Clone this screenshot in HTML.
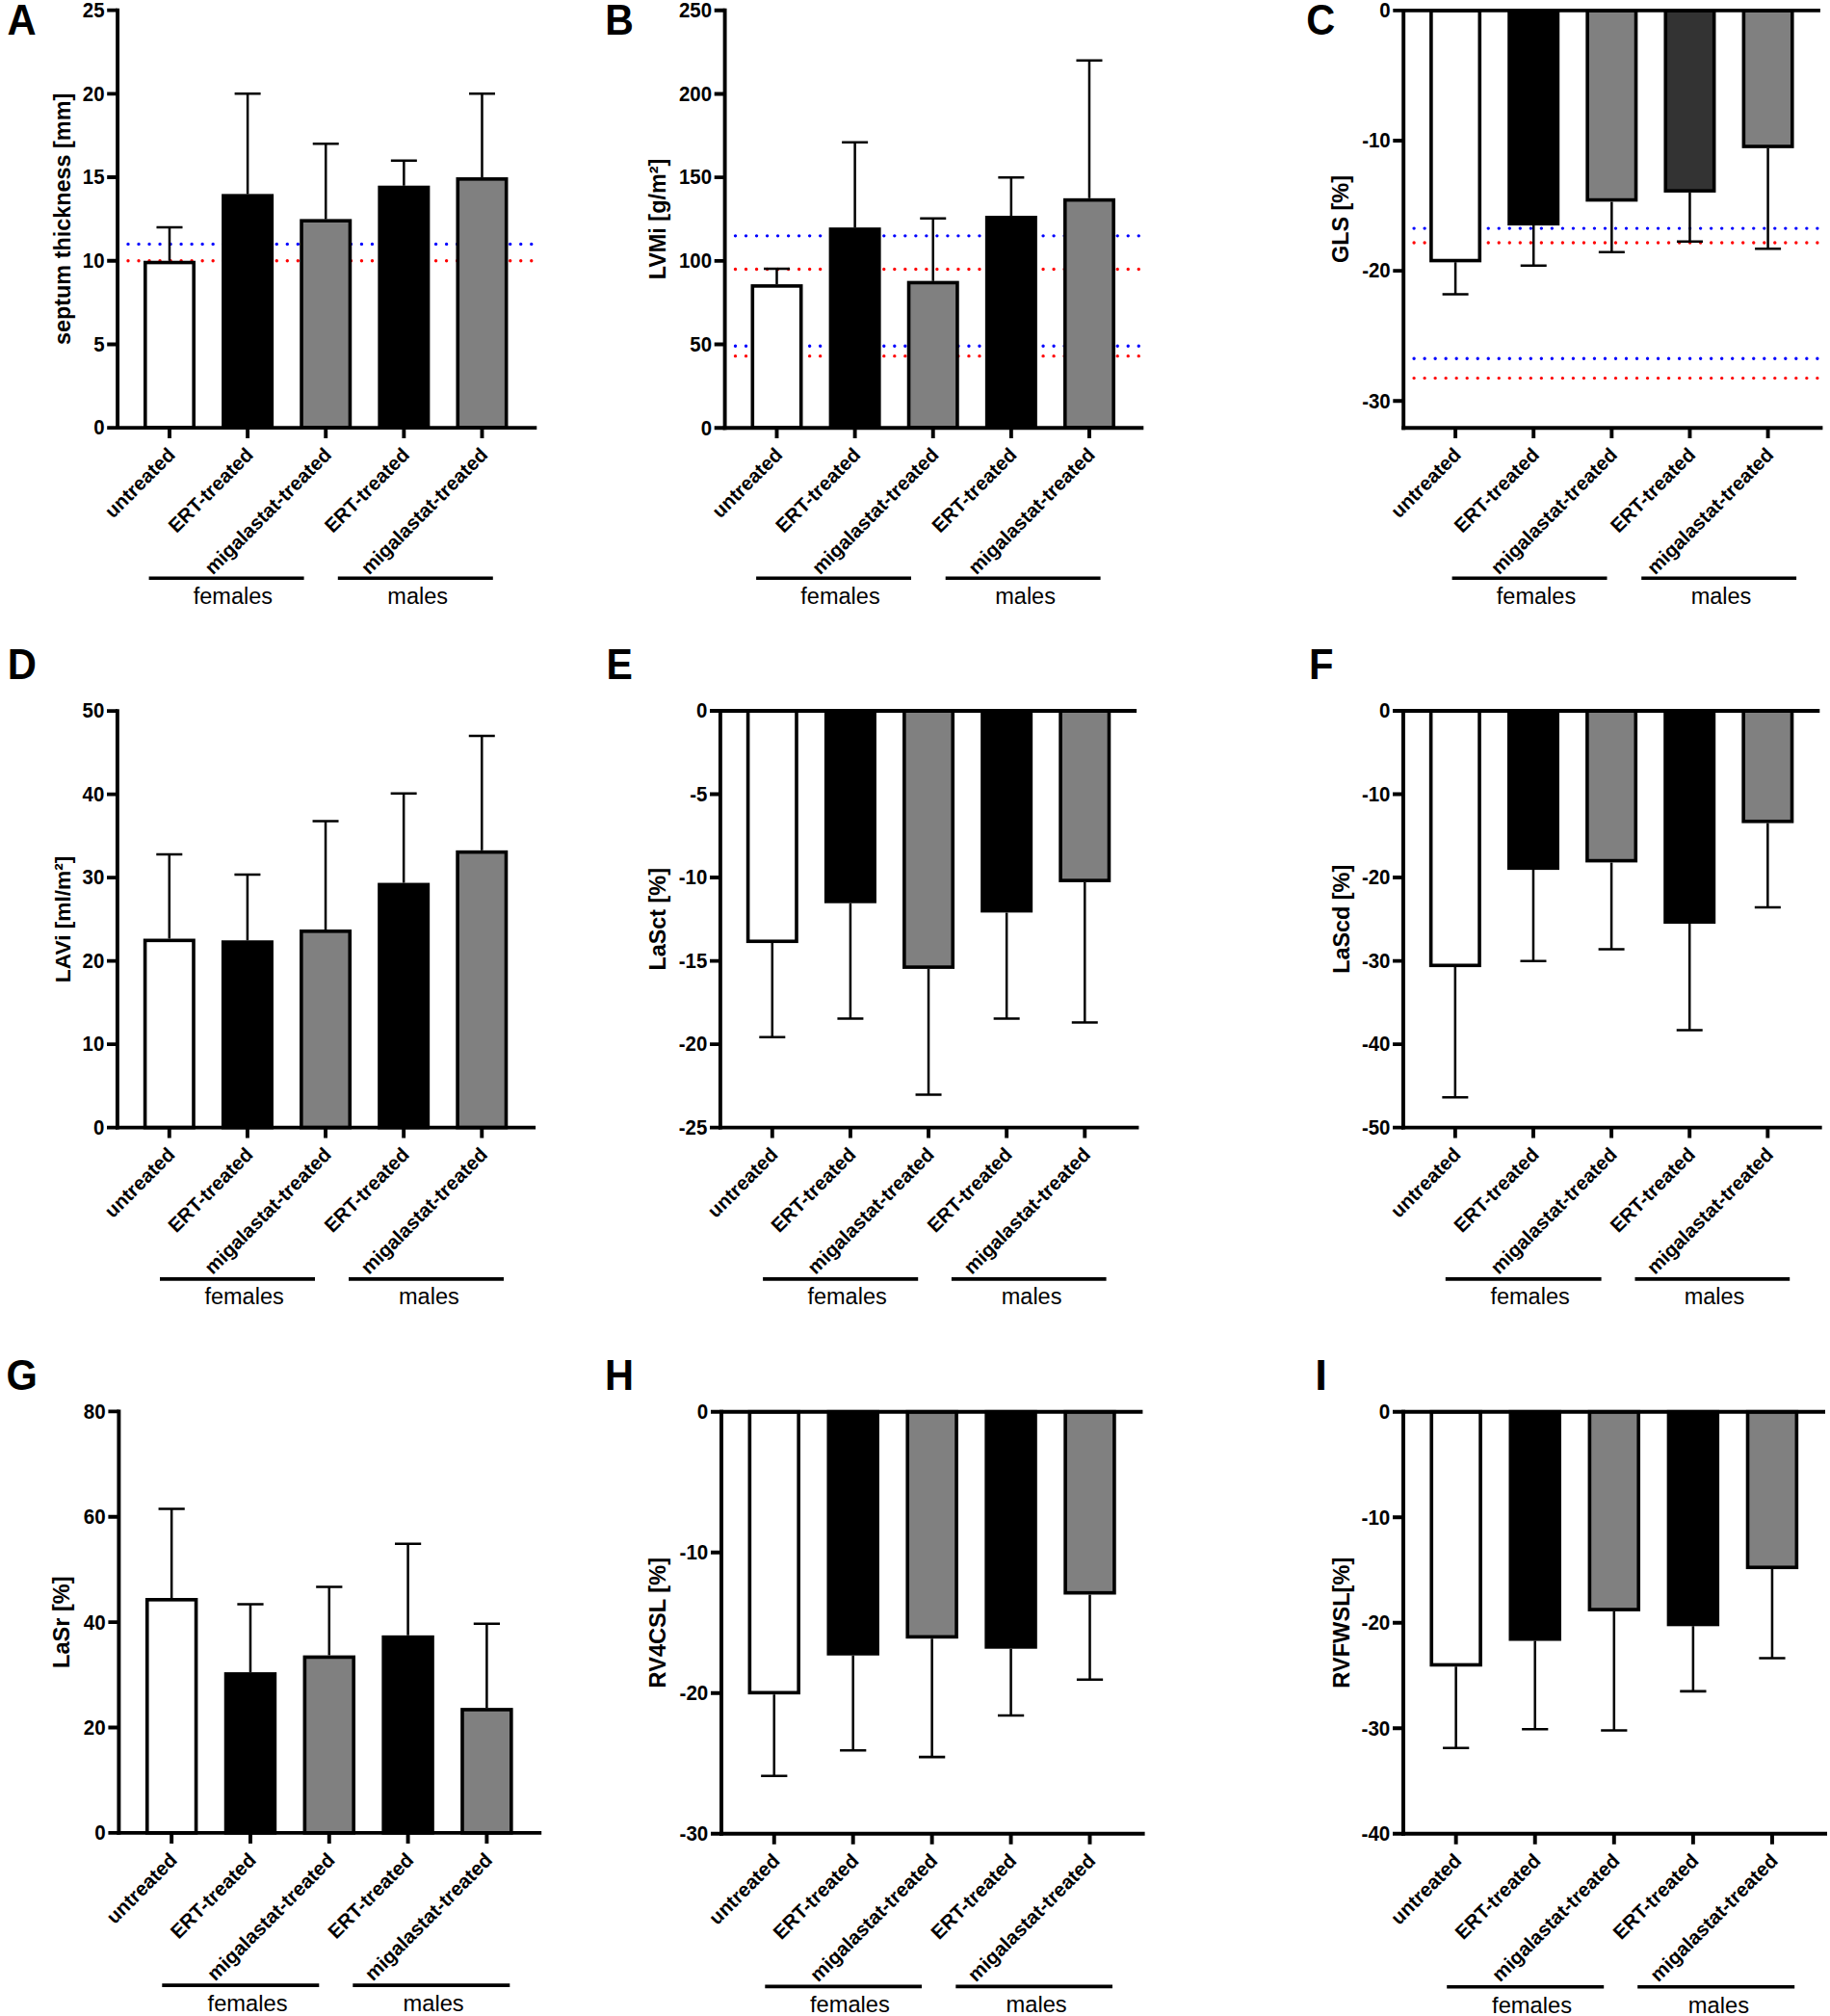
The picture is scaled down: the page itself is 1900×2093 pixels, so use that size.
<!DOCTYPE html>
<html lang="en"><head><meta charset="utf-8"><title>Figure</title>
<style>
html,body{margin:0;padding:0;background:#fff;}
body{width:1900px;height:2093px;overflow:hidden;}
svg{display:block;font-family:"Liberation Sans", sans-serif;fill:#000;}
</style></head><body>
<svg width="1900" height="2093" viewBox="0 0 1900 2093">
<rect width="1900" height="2093" fill="#fff"/>
<g>
<line x1="133" y1="253.41" x2="556.3" y2="253.41" stroke="#0000ff" stroke-width="3.4" stroke-linecap="round" stroke-dasharray="0 11.02"/>
<line x1="133" y1="270.75" x2="556.3" y2="270.75" stroke="#ff0000" stroke-width="3.4" stroke-linecap="round" stroke-dasharray="0 11.02"/>
<path d="M176 270.75V236.07M162.5 236.07H189.5" stroke="#000" stroke-width="2.5" fill="none"/>
<rect x="150.8" y="272.55" width="50.4" height="171.6" fill="#ffffff" stroke="#000" stroke-width="3.6"/>
<path d="M257.12 201.39V97.35M243.62 97.35H270.62" stroke="#000" stroke-width="2.5" fill="none"/>
<rect x="231.92" y="203.19" width="50.4" height="240.96" fill="#000000" stroke="#000" stroke-width="3.6"/>
<path d="M338.24 227.4V149.37M324.74 149.37H351.74" stroke="#000" stroke-width="2.5" fill="none"/>
<rect x="313.04" y="229.2" width="50.4" height="214.95" fill="#808080" stroke="#000" stroke-width="3.6"/>
<path d="M419.36 192.72V166.71M405.86 166.71H432.86" stroke="#000" stroke-width="2.5" fill="none"/>
<rect x="394.16" y="194.52" width="50.4" height="249.63" fill="#000000" stroke="#000" stroke-width="3.6"/>
<path d="M500.48 184.05V97.35M486.98 97.35H513.98" stroke="#000" stroke-width="2.5" fill="none"/>
<rect x="475.28" y="185.85" width="50.4" height="258.3" fill="#808080" stroke="#000" stroke-width="3.6"/>
<path d="M122.1 8.7V446.1" stroke="#000" stroke-width="3.9" fill="none"/>
<path d="M120.15 444.15H557.3" stroke="#000" stroke-width="3.9" fill="none"/>
<path d="M111.2 444.15H122.1M111.2 357.45H122.1M111.2 270.75H122.1M111.2 184.05H122.1M111.2 97.35H122.1M111.2 10.65H122.1" stroke="#000" stroke-width="3.9" fill="none"/>
<g font-weight="bold" font-size="20.4" text-anchor="end">
<text transform="translate(108.5 451.45) scale(1 1.04)">0</text>
<text transform="translate(108.5 364.75) scale(1 1.04)">5</text>
<text transform="translate(108.5 278.05) scale(1 1.04)">10</text>
<text transform="translate(108.5 191.35) scale(1 1.04)">15</text>
<text transform="translate(108.5 104.65) scale(1 1.04)">20</text>
<text transform="translate(108.5 17.95) scale(1 1.04)">25</text>
</g>
<path d="M176 444.15V455.05M257.12 444.15V455.05M338.24 444.15V455.05M419.36 444.15V455.05M500.48 444.15V455.05" stroke="#000" stroke-width="3.9" fill="none"/>
<g font-weight="bold" font-size="20.4" text-anchor="end">
<text transform="translate(183 473.35) rotate(-45)">untreated</text>
<text transform="translate(264.12 473.35) rotate(-45)">ERT-treated</text>
<text transform="translate(345.24 473.35) rotate(-45)">migalastat-treated</text>
<text transform="translate(426.36 473.35) rotate(-45)">ERT-treated</text>
<text transform="translate(507.48 473.35) rotate(-45)">migalastat-treated</text>
</g>
<text transform="translate(72.9 227.4) rotate(-90)" font-weight="bold" font-size="23.4" text-anchor="middle">septum thickness [mm]</text>
<path d="M154.6 600.3H315.6" stroke="#000" stroke-width="3.6" fill="none"/>
<text x="241.9" y="626.5" font-size="23.5" text-anchor="middle">females</text>
<path d="M350.8 600.3H511.8" stroke="#000" stroke-width="3.6" fill="none"/>
<text x="433.7" y="626.5" font-size="23.5" text-anchor="middle">males</text>
<text transform="translate(7.46 36.3) scale(0.944 1)" font-weight="bold" font-size="44.2">A</text>
</g>
<g>
<line x1="763.5" y1="244.84" x2="1186.3" y2="244.84" stroke="#0000ff" stroke-width="3.4" stroke-linecap="round" stroke-dasharray="0 11.02"/>
<line x1="763.5" y1="279.51" x2="1186.3" y2="279.51" stroke="#ff0000" stroke-width="3.4" stroke-linecap="round" stroke-dasharray="0 11.02"/>
<line x1="763.5" y1="359.25" x2="1186.3" y2="359.25" stroke="#0000ff" stroke-width="3.4" stroke-linecap="round" stroke-dasharray="0 11.02"/>
<line x1="763.5" y1="369.66" x2="1186.3" y2="369.66" stroke="#ff0000" stroke-width="3.4" stroke-linecap="round" stroke-dasharray="0 11.02"/>
<path d="M806.5 295.11V278.99M793 278.99H820" stroke="#000" stroke-width="2.5" fill="none"/>
<rect x="781.3" y="296.91" width="50.4" height="147.29" fill="#ffffff" stroke="#000" stroke-width="3.6"/>
<path d="M887.62 236.17V147.75M874.12 147.75H901.12" stroke="#000" stroke-width="2.5" fill="none"/>
<rect x="862.42" y="237.97" width="50.4" height="206.23" fill="#000000" stroke="#000" stroke-width="3.6"/>
<path d="M968.74 291.64V226.63M955.24 226.63H982.24" stroke="#000" stroke-width="2.5" fill="none"/>
<rect x="943.54" y="293.44" width="50.4" height="150.76" fill="#808080" stroke="#000" stroke-width="3.6"/>
<path d="M1049.86 224.03V184.16M1036.36 184.16H1063.36" stroke="#000" stroke-width="2.5" fill="none"/>
<rect x="1024.66" y="225.83" width="50.4" height="218.37" fill="#000000" stroke="#000" stroke-width="3.6"/>
<path d="M1130.98 205.83V62.81M1117.48 62.81H1144.48" stroke="#000" stroke-width="2.5" fill="none"/>
<rect x="1105.78" y="207.63" width="50.4" height="236.57" fill="#808080" stroke="#000" stroke-width="3.6"/>
<path d="M752.6 8.85V446.15" stroke="#000" stroke-width="3.9" fill="none"/>
<path d="M750.65 444.2H1187.3" stroke="#000" stroke-width="3.9" fill="none"/>
<path d="M741.7 444.2H752.6M741.7 357.52H752.6M741.7 270.84H752.6M741.7 184.16H752.6M741.7 97.48H752.6M741.7 10.8H752.6" stroke="#000" stroke-width="3.9" fill="none"/>
<g font-weight="bold" font-size="20.4" text-anchor="end">
<text transform="translate(739 451.5) scale(1 1.04)">0</text>
<text transform="translate(739 364.82) scale(1 1.04)">50</text>
<text transform="translate(739 278.14) scale(1 1.04)">100</text>
<text transform="translate(739 191.46) scale(1 1.04)">150</text>
<text transform="translate(739 104.78) scale(1 1.04)">200</text>
<text transform="translate(739 18.1) scale(1 1.04)">250</text>
</g>
<path d="M806.5 444.2V455.1M887.62 444.2V455.1M968.74 444.2V455.1M1049.86 444.2V455.1M1130.98 444.2V455.1" stroke="#000" stroke-width="3.9" fill="none"/>
<g font-weight="bold" font-size="20.4" text-anchor="end">
<text transform="translate(813.5 473.4) rotate(-45)">untreated</text>
<text transform="translate(894.62 473.4) rotate(-45)">ERT-treated</text>
<text transform="translate(975.74 473.4) rotate(-45)">migalastat-treated</text>
<text transform="translate(1056.86 473.4) rotate(-45)">ERT-treated</text>
<text transform="translate(1137.98 473.4) rotate(-45)">migalastat-treated</text>
</g>
<text transform="translate(690.5 227.5) rotate(-90)" font-weight="bold" font-size="23.4" text-anchor="middle">LVMi [g/m²]</text>
<path d="M785.1 600.3H946" stroke="#000" stroke-width="3.6" fill="none"/>
<text x="872.5" y="626.5" font-size="23.5" text-anchor="middle">females</text>
<path d="M981.7 600.3H1142.6" stroke="#000" stroke-width="3.6" fill="none"/>
<text x="1064.6" y="626.5" font-size="23.5" text-anchor="middle">males</text>
<text transform="translate(628.36 36.3) scale(0.927 1)" font-weight="bold" font-size="44.2">B</text>
</g>
<g>
<line x1="1468.1" y1="237.08" x2="1891.4" y2="237.08" stroke="#0000ff" stroke-width="3.4" stroke-linecap="round" stroke-dasharray="0 11.02"/>
<line x1="1468.1" y1="251.94" x2="1891.4" y2="251.94" stroke="#ff0000" stroke-width="3.4" stroke-linecap="round" stroke-dasharray="0 11.02"/>
<line x1="1468.1" y1="372.32" x2="1891.4" y2="372.32" stroke="#0000ff" stroke-width="3.4" stroke-linecap="round" stroke-dasharray="0 11.02"/>
<line x1="1468.1" y1="392.59" x2="1891.4" y2="392.59" stroke="#ff0000" stroke-width="3.4" stroke-linecap="round" stroke-dasharray="0 11.02"/>
<path d="M1511.1 272.34V305.44M1497.6 305.44H1524.6" stroke="#000" stroke-width="2.5" fill="none"/>
<rect x="1485.9" y="10.9" width="50.4" height="259.64" fill="#ffffff" stroke="#000" stroke-width="3.6"/>
<path d="M1592.22 234.1V275.72M1578.72 275.72H1605.72" stroke="#000" stroke-width="2.5" fill="none"/>
<rect x="1567.02" y="10.9" width="50.4" height="221.4" fill="#000000" stroke="#000" stroke-width="3.6"/>
<path d="M1673.34 209.38V261.8M1659.84 261.8H1686.84" stroke="#000" stroke-width="2.5" fill="none"/>
<rect x="1648.14" y="10.9" width="50.4" height="196.68" fill="#808080" stroke="#000" stroke-width="3.6"/>
<path d="M1754.46 199.92V250.72M1740.96 250.72H1767.96" stroke="#000" stroke-width="2.5" fill="none"/>
<rect x="1729.26" y="10.9" width="50.4" height="187.22" fill="#333333" stroke="#000" stroke-width="3.6"/>
<path d="M1835.58 153.85V258.15M1822.08 258.15H1849.08" stroke="#000" stroke-width="2.5" fill="none"/>
<rect x="1810.38" y="10.9" width="50.4" height="141.15" fill="#808080" stroke="#000" stroke-width="3.6"/>
<path d="M1457.2 8.95V446.15" stroke="#000" stroke-width="3.9" fill="none"/>
<path d="M1455.25 444.2H1892.4" stroke="#000" stroke-width="3.9" fill="none"/>
<path d="M1457.2 10.9H1889.9" stroke="#000" stroke-width="3.9" fill="none"/>
<path d="M1446.3 10.9H1457.2M1446.3 146.01H1457.2M1446.3 281.12H1457.2M1446.3 416.23H1457.2" stroke="#000" stroke-width="3.9" fill="none"/>
<g font-weight="bold" font-size="20.4" text-anchor="end">
<text transform="translate(1443.6 18.2) scale(1 1.04)">0</text>
<text transform="translate(1443.6 153.31) scale(1 1.04)">-10</text>
<text transform="translate(1443.6 288.42) scale(1 1.04)">-20</text>
<text transform="translate(1443.6 423.54) scale(1 1.04)">-30</text>
</g>
<path d="M1511.1 444.2V455.1M1592.22 444.2V455.1M1673.34 444.2V455.1M1754.46 444.2V455.1M1835.58 444.2V455.1" stroke="#000" stroke-width="3.9" fill="none"/>
<g font-weight="bold" font-size="20.4" text-anchor="end">
<text transform="translate(1518.1 473.4) rotate(-45)">untreated</text>
<text transform="translate(1599.22 473.4) rotate(-45)">ERT-treated</text>
<text transform="translate(1680.34 473.4) rotate(-45)">migalastat-treated</text>
<text transform="translate(1761.46 473.4) rotate(-45)">ERT-treated</text>
<text transform="translate(1842.58 473.4) rotate(-45)">migalastat-treated</text>
</g>
<text transform="translate(1399.5 227.55) rotate(-90)" font-weight="bold" font-size="23.4" text-anchor="middle">GLS [%]</text>
<path d="M1507.6 600.3H1668.5" stroke="#000" stroke-width="3.6" fill="none"/>
<text x="1595" y="626.5" font-size="23.5" text-anchor="middle">females</text>
<path d="M1704.2 600.3H1865.1" stroke="#000" stroke-width="3.6" fill="none"/>
<text x="1787" y="626.5" font-size="23.5" text-anchor="middle">males</text>
<text transform="translate(1356.2 36.3) scale(0.938 1)" font-weight="bold" font-size="44.2">C</text>
</g>
<g>
<path d="M175.8 974.53V886.9M162.3 886.9H189.3" stroke="#000" stroke-width="2.5" fill="none"/>
<rect x="150.6" y="976.33" width="50.4" height="194.32" fill="#ffffff" stroke="#000" stroke-width="3.6"/>
<path d="M256.92 976.26V908.09M243.42 908.09H270.42" stroke="#000" stroke-width="2.5" fill="none"/>
<rect x="231.72" y="978.06" width="50.4" height="192.59" fill="#000000" stroke="#000" stroke-width="3.6"/>
<path d="M338.04 965.02V852.55M324.54 852.55H351.54" stroke="#000" stroke-width="2.5" fill="none"/>
<rect x="312.84" y="966.82" width="50.4" height="203.83" fill="#808080" stroke="#000" stroke-width="3.6"/>
<path d="M419.16 916.57V823.74M405.66 823.74H432.66" stroke="#000" stroke-width="2.5" fill="none"/>
<rect x="393.96" y="918.37" width="50.4" height="252.28" fill="#000000" stroke="#000" stroke-width="3.6"/>
<path d="M500.28 882.83V764.05M486.78 764.05H513.78" stroke="#000" stroke-width="2.5" fill="none"/>
<rect x="475.08" y="884.63" width="50.4" height="286.02" fill="#808080" stroke="#000" stroke-width="3.6"/>
<path d="M121.9 736.15V1172.6" stroke="#000" stroke-width="3.9" fill="none"/>
<path d="M119.95 1170.65H556.1" stroke="#000" stroke-width="3.9" fill="none"/>
<path d="M111 1170.65H121.9M111 1084.14H121.9M111 997.63H121.9M111 911.12H121.9M111 824.61H121.9M111 738.1H121.9" stroke="#000" stroke-width="3.9" fill="none"/>
<g font-weight="bold" font-size="20.4" text-anchor="end">
<text transform="translate(108.3 1177.95) scale(1 1.04)">0</text>
<text transform="translate(108.3 1091.44) scale(1 1.04)">10</text>
<text transform="translate(108.3 1004.93) scale(1 1.04)">20</text>
<text transform="translate(108.3 918.42) scale(1 1.04)">30</text>
<text transform="translate(108.3 831.91) scale(1 1.04)">40</text>
<text transform="translate(108.3 745.4) scale(1 1.04)">50</text>
</g>
<path d="M175.8 1170.65V1181.55M256.92 1170.65V1181.55M338.04 1170.65V1181.55M419.16 1170.65V1181.55M500.28 1170.65V1181.55" stroke="#000" stroke-width="3.9" fill="none"/>
<g font-weight="bold" font-size="20.4" text-anchor="end">
<text transform="translate(182.8 1199.85) rotate(-45)">untreated</text>
<text transform="translate(263.92 1199.85) rotate(-45)">ERT-treated</text>
<text transform="translate(345.04 1199.85) rotate(-45)">migalastat-treated</text>
<text transform="translate(426.16 1199.85) rotate(-45)">ERT-treated</text>
<text transform="translate(507.28 1199.85) rotate(-45)">migalastat-treated</text>
</g>
<text transform="translate(73 954.38) rotate(-90)" font-weight="bold" font-size="22.7" text-anchor="middle">LAVi [ml/m²]</text>
<path d="M166 1327.9H327" stroke="#000" stroke-width="3.6" fill="none"/>
<text x="253.6" y="1354.3" font-size="23.5" text-anchor="middle">females</text>
<path d="M362 1327.9H523" stroke="#000" stroke-width="3.6" fill="none"/>
<text x="445.4" y="1354.3" font-size="23.5" text-anchor="middle">males</text>
<text transform="translate(7.71 705) scale(0.944 1)" font-weight="bold" font-size="44.2">D</text>
</g>
<g>
<path d="M801.8 979.07V1076.85M788.3 1076.85H815.3" stroke="#000" stroke-width="2.5" fill="none"/>
<rect x="776.6" y="738" width="50.4" height="239.27" fill="#ffffff" stroke="#000" stroke-width="3.6"/>
<path d="M882.92 937.71V1057.47M869.42 1057.47H896.42" stroke="#000" stroke-width="2.5" fill="none"/>
<rect x="857.72" y="738" width="50.4" height="197.91" fill="#000000" stroke="#000" stroke-width="3.6"/>
<path d="M964.04 1005.9V1136.38M950.54 1136.38H977.54" stroke="#000" stroke-width="2.5" fill="none"/>
<rect x="938.84" y="738" width="50.4" height="266.1" fill="#808080" stroke="#000" stroke-width="3.6"/>
<path d="M1045.16 947.4V1057.47M1031.66 1057.47H1058.66" stroke="#000" stroke-width="2.5" fill="none"/>
<rect x="1019.96" y="738" width="50.4" height="207.6" fill="#000000" stroke="#000" stroke-width="3.6"/>
<path d="M1126.28 915.91V1061.62M1112.78 1061.62H1139.78" stroke="#000" stroke-width="2.5" fill="none"/>
<rect x="1101.08" y="738" width="50.4" height="176.11" fill="#808080" stroke="#000" stroke-width="3.6"/>
<path d="M747.9 736.05V1172.6" stroke="#000" stroke-width="3.9" fill="none"/>
<path d="M745.95 1170.65H1182.4" stroke="#000" stroke-width="3.9" fill="none"/>
<path d="M747.9 738H1180.1" stroke="#000" stroke-width="3.9" fill="none"/>
<path d="M737 738H747.9M737 824.53H747.9M737 911.06H747.9M737 997.59H747.9M737 1084.12H747.9M737 1170.65H747.9" stroke="#000" stroke-width="3.9" fill="none"/>
<g font-weight="bold" font-size="20.4" text-anchor="end">
<text transform="translate(734.3 745.3) scale(1 1.04)">0</text>
<text transform="translate(734.3 831.83) scale(1 1.04)">-5</text>
<text transform="translate(734.3 918.36) scale(1 1.04)">-10</text>
<text transform="translate(734.3 1004.89) scale(1 1.04)">-15</text>
<text transform="translate(734.3 1091.42) scale(1 1.04)">-20</text>
<text transform="translate(734.3 1177.95) scale(1 1.04)">-25</text>
</g>
<path d="M801.8 1170.65V1181.55M882.92 1170.65V1181.55M964.04 1170.65V1181.55M1045.16 1170.65V1181.55M1126.28 1170.65V1181.55" stroke="#000" stroke-width="3.9" fill="none"/>
<g font-weight="bold" font-size="20.4" text-anchor="end">
<text transform="translate(808.8 1199.85) rotate(-45)">untreated</text>
<text transform="translate(889.92 1199.85) rotate(-45)">ERT-treated</text>
<text transform="translate(971.04 1199.85) rotate(-45)">migalastat-treated</text>
<text transform="translate(1052.16 1199.85) rotate(-45)">ERT-treated</text>
<text transform="translate(1133.28 1199.85) rotate(-45)">migalastat-treated</text>
</g>
<text transform="translate(691 954.33) rotate(-90)" font-weight="bold" font-size="23.4" text-anchor="middle">LaSct [%]</text>
<path d="M792.1 1327.9H953.2" stroke="#000" stroke-width="3.6" fill="none"/>
<text x="879.6" y="1354.3" font-size="23.5" text-anchor="middle">females</text>
<path d="M987.9 1327.9H1148.6" stroke="#000" stroke-width="3.6" fill="none"/>
<text x="1071.1" y="1354.3" font-size="23.5" text-anchor="middle">males</text>
<text transform="translate(629.46 705) scale(0.928 1)" font-weight="bold" font-size="44.2">E</text>
</g>
<g>
<path d="M1510.85 1004.08V1139.33M1497.35 1139.33H1524.35" stroke="#000" stroke-width="2.5" fill="none"/>
<rect x="1485.65" y="738" width="50.4" height="264.28" fill="#ffffff" stroke="#000" stroke-width="3.6"/>
<path d="M1591.97 903.1V997.76M1578.47 997.76H1605.47" stroke="#000" stroke-width="2.5" fill="none"/>
<rect x="1566.77" y="738" width="50.4" height="163.3" fill="#000000" stroke="#000" stroke-width="3.6"/>
<path d="M1673.09 895.4V985.48M1659.59 985.48H1686.59" stroke="#000" stroke-width="2.5" fill="none"/>
<rect x="1647.89" y="738" width="50.4" height="155.6" fill="#808080" stroke="#000" stroke-width="3.6"/>
<path d="M1754.21 959V1069.41M1740.71 1069.41H1767.71" stroke="#000" stroke-width="2.5" fill="none"/>
<rect x="1729.01" y="738" width="50.4" height="219.2" fill="#000000" stroke="#000" stroke-width="3.6"/>
<path d="M1835.33 854.56V942.04M1821.83 942.04H1848.83" stroke="#000" stroke-width="2.5" fill="none"/>
<rect x="1810.13" y="738" width="50.4" height="114.76" fill="#808080" stroke="#000" stroke-width="3.6"/>
<path d="M1456.95 736.05V1172.6" stroke="#000" stroke-width="3.9" fill="none"/>
<path d="M1455 1170.65H1891.65" stroke="#000" stroke-width="3.9" fill="none"/>
<path d="M1456.95 738H1889.3" stroke="#000" stroke-width="3.9" fill="none"/>
<path d="M1446.05 738H1456.95M1446.05 824.53H1456.95M1446.05 911.06H1456.95M1446.05 997.59H1456.95M1446.05 1084.12H1456.95M1446.05 1170.65H1456.95" stroke="#000" stroke-width="3.9" fill="none"/>
<g font-weight="bold" font-size="20.4" text-anchor="end">
<text transform="translate(1443.35 745.3) scale(1 1.04)">0</text>
<text transform="translate(1443.35 831.83) scale(1 1.04)">-10</text>
<text transform="translate(1443.35 918.36) scale(1 1.04)">-20</text>
<text transform="translate(1443.35 1004.89) scale(1 1.04)">-30</text>
<text transform="translate(1443.35 1091.42) scale(1 1.04)">-40</text>
<text transform="translate(1443.35 1177.95) scale(1 1.04)">-50</text>
</g>
<path d="M1510.85 1170.65V1181.55M1591.97 1170.65V1181.55M1673.09 1170.65V1181.55M1754.21 1170.65V1181.55M1835.33 1170.65V1181.55" stroke="#000" stroke-width="3.9" fill="none"/>
<g font-weight="bold" font-size="20.4" text-anchor="end">
<text transform="translate(1517.85 1199.85) rotate(-45)">untreated</text>
<text transform="translate(1598.97 1199.85) rotate(-45)">ERT-treated</text>
<text transform="translate(1680.09 1199.85) rotate(-45)">migalastat-treated</text>
<text transform="translate(1761.21 1199.85) rotate(-45)">ERT-treated</text>
<text transform="translate(1842.33 1199.85) rotate(-45)">migalastat-treated</text>
</g>
<text transform="translate(1400.5 954.33) rotate(-90)" font-weight="bold" font-size="23.4" text-anchor="middle">LaScd [%]</text>
<path d="M1500.8 1327.9H1662.6" stroke="#000" stroke-width="3.6" fill="none"/>
<text x="1588.6" y="1354.3" font-size="23.5" text-anchor="middle">females</text>
<path d="M1697.5 1327.9H1858.2" stroke="#000" stroke-width="3.6" fill="none"/>
<text x="1780" y="1354.3" font-size="23.5" text-anchor="middle">males</text>
<text transform="translate(1359.1 705) scale(0.945 1)" font-weight="bold" font-size="44.2">F</text>
</g>
<g>
<path d="M178.16 1658.99V1566.57M164.55 1566.57H191.78" stroke="#000" stroke-width="2.52" fill="none"/>
<rect x="152.75" y="1660.81" width="50.83" height="242.09" fill="#ffffff" stroke="#000" stroke-width="3.63"/>
<path d="M259.97 1736.1V1665.56M246.36 1665.56H273.59" stroke="#000" stroke-width="2.52" fill="none"/>
<rect x="234.56" y="1737.92" width="50.83" height="164.98" fill="#000000" stroke="#000" stroke-width="3.63"/>
<path d="M341.78 1718.6V1647.51M328.17 1647.51H355.4" stroke="#000" stroke-width="2.52" fill="none"/>
<rect x="316.37" y="1720.42" width="50.83" height="182.48" fill="#808080" stroke="#000" stroke-width="3.63"/>
<path d="M423.59 1697.82V1602.67M409.98 1602.67H437.2" stroke="#000" stroke-width="2.52" fill="none"/>
<rect x="398.18" y="1699.64" width="50.83" height="203.26" fill="#000000" stroke="#000" stroke-width="3.63"/>
<path d="M505.4 1773.13V1685.79M491.78 1685.79H519.01" stroke="#000" stroke-width="2.52" fill="none"/>
<rect x="479.99" y="1774.94" width="50.83" height="127.96" fill="#808080" stroke="#000" stroke-width="3.63"/>
<path d="M123.4 1463.43V1904.87" stroke="#000" stroke-width="3.93" fill="none"/>
<path d="M121.43 1902.9H562.2" stroke="#000" stroke-width="3.93" fill="none"/>
<path d="M112.41 1902.9H123.4M112.41 1793.53H123.4M112.41 1684.15H123.4M112.41 1574.78H123.4M112.41 1465.4H123.4" stroke="#000" stroke-width="3.93" fill="none"/>
<g font-weight="bold" font-size="20.57" text-anchor="end">
<text transform="translate(109.68 1910.27) scale(1 1.04)">0</text>
<text transform="translate(109.68 1800.89) scale(1 1.04)">20</text>
<text transform="translate(109.68 1691.52) scale(1 1.04)">40</text>
<text transform="translate(109.68 1582.14) scale(1 1.04)">60</text>
<text transform="translate(109.68 1472.77) scale(1 1.04)">80</text>
</g>
<path d="M178.16 1902.9V1913.89M259.97 1902.9V1913.89M341.78 1902.9V1913.89M423.59 1902.9V1913.89M505.4 1902.9V1913.89" stroke="#000" stroke-width="3.93" fill="none"/>
<g font-weight="bold" font-size="20.57" text-anchor="end">
<text transform="translate(185.22 1932.35) rotate(-45)">untreated</text>
<text transform="translate(267.03 1932.35) rotate(-45)">ERT-treated</text>
<text transform="translate(348.84 1932.35) rotate(-45)">migalastat-treated</text>
<text transform="translate(430.65 1932.35) rotate(-45)">ERT-treated</text>
<text transform="translate(512.46 1932.35) rotate(-45)">migalastat-treated</text>
</g>
<text transform="translate(71.5 1684.15) rotate(-90)" font-weight="bold" font-size="23.6" text-anchor="middle">LaSr [%]</text>
<path d="M168.3 2061.1H331.3" stroke="#000" stroke-width="3.63" fill="none"/>
<text x="257.1" y="2088.3" font-size="23.7" text-anchor="middle">females</text>
<path d="M366.3 2061.1H529.3" stroke="#000" stroke-width="3.63" fill="none"/>
<text x="450.1" y="2088.3" font-size="23.7" text-anchor="middle">males</text>
<text transform="translate(6.39 1443) scale(0.934 1)" font-weight="bold" font-size="44.6">G</text>
</g>
<g>
<path d="M803.76 1759.16V1843.84M790.15 1843.84H817.38" stroke="#000" stroke-width="2.52" fill="none"/>
<rect x="778.35" y="1465.7" width="50.83" height="291.64" fill="#ffffff" stroke="#000" stroke-width="3.63"/>
<path d="M885.7 1718.72V1817.27M872.09 1817.27H899.32" stroke="#000" stroke-width="2.52" fill="none"/>
<rect x="860.29" y="1465.7" width="50.83" height="251.2" fill="#000000" stroke="#000" stroke-width="3.63"/>
<path d="M967.64 1701.2V1824.13M954.03 1824.13H981.26" stroke="#000" stroke-width="2.52" fill="none"/>
<rect x="942.23" y="1465.7" width="50.83" height="233.68" fill="#808080" stroke="#000" stroke-width="3.63"/>
<path d="M1049.58 1711.71V1781.06M1035.97 1781.06H1063.2" stroke="#000" stroke-width="2.52" fill="none"/>
<rect x="1024.17" y="1465.7" width="50.83" height="244.19" fill="#000000" stroke="#000" stroke-width="3.63"/>
<path d="M1131.52 1655.5V1743.83M1117.91 1743.83H1145.14" stroke="#000" stroke-width="2.52" fill="none"/>
<rect x="1106.11" y="1465.7" width="50.83" height="187.98" fill="#808080" stroke="#000" stroke-width="3.63"/>
<path d="M749 1463.73V1905.67" stroke="#000" stroke-width="3.93" fill="none"/>
<path d="M747.03 1903.7H1188.6" stroke="#000" stroke-width="3.93" fill="none"/>
<path d="M749 1465.7H1186.4" stroke="#000" stroke-width="3.93" fill="none"/>
<path d="M738.01 1465.7H749M738.01 1611.7H749M738.01 1757.7H749M738.01 1903.7H749" stroke="#000" stroke-width="3.93" fill="none"/>
<g font-weight="bold" font-size="20.57" text-anchor="end">
<text transform="translate(735.28 1473.07) scale(1 1.04)">0</text>
<text transform="translate(735.28 1619.07) scale(1 1.04)">-10</text>
<text transform="translate(735.28 1765.07) scale(1 1.04)">-20</text>
<text transform="translate(735.28 1911.07) scale(1 1.04)">-30</text>
</g>
<path d="M803.76 1903.7V1914.69M885.7 1903.7V1914.69M967.64 1903.7V1914.69M1049.58 1903.7V1914.69M1131.52 1903.7V1914.69" stroke="#000" stroke-width="3.93" fill="none"/>
<g font-weight="bold" font-size="20.57" text-anchor="end">
<text transform="translate(810.82 1933.15) rotate(-45)">untreated</text>
<text transform="translate(892.76 1933.15) rotate(-45)">ERT-treated</text>
<text transform="translate(974.7 1933.15) rotate(-45)">migalastat-treated</text>
<text transform="translate(1056.64 1933.15) rotate(-45)">ERT-treated</text>
<text transform="translate(1138.58 1933.15) rotate(-45)">migalastat-treated</text>
</g>
<text transform="translate(690.5 1684.7) rotate(-90)" font-weight="bold" font-size="23.6" text-anchor="middle">RV4CSL [%]</text>
<path d="M794.3 2062.4H957" stroke="#000" stroke-width="3.63" fill="none"/>
<text x="882.4" y="2089.1" font-size="23.7" text-anchor="middle">females</text>
<path d="M992.3 2062.4H1155" stroke="#000" stroke-width="3.63" fill="none"/>
<text x="1076.1" y="2089.1" font-size="23.7" text-anchor="middle">males</text>
<text transform="translate(628.02 1442.9) scale(0.931 1)" font-weight="bold" font-size="44.6">H</text>
</g>
<g>
<path d="M1511.66 1730.25V1814.79M1498.05 1814.79H1525.28" stroke="#000" stroke-width="2.52" fill="none"/>
<rect x="1486.25" y="1465.7" width="50.83" height="262.74" fill="#ffffff" stroke="#000" stroke-width="3.63"/>
<path d="M1593.73 1703.53V1795.3M1580.12 1795.3H1607.35" stroke="#000" stroke-width="2.52" fill="none"/>
<rect x="1568.32" y="1465.7" width="50.83" height="236.02" fill="#000000" stroke="#000" stroke-width="3.63"/>
<path d="M1675.8 1672.87V1796.39M1662.19 1796.39H1689.42" stroke="#000" stroke-width="2.52" fill="none"/>
<rect x="1650.39" y="1465.7" width="50.83" height="205.36" fill="#808080" stroke="#000" stroke-width="3.63"/>
<path d="M1757.88 1688.31V1755.88M1744.26 1755.88H1771.49" stroke="#000" stroke-width="2.52" fill="none"/>
<rect x="1732.46" y="1465.7" width="50.83" height="220.8" fill="#000000" stroke="#000" stroke-width="3.63"/>
<path d="M1839.95 1629.07V1721.49M1826.33 1721.49H1853.56" stroke="#000" stroke-width="2.52" fill="none"/>
<rect x="1814.53" y="1465.7" width="50.83" height="161.56" fill="#808080" stroke="#000" stroke-width="3.63"/>
<path d="M1457 1463.73V1905.67" stroke="#000" stroke-width="3.93" fill="none"/>
<path d="M1455.03 1903.7H1897" stroke="#000" stroke-width="3.93" fill="none"/>
<path d="M1457 1465.7H1895" stroke="#000" stroke-width="3.93" fill="none"/>
<path d="M1446.01 1465.7H1457M1446.01 1575.2H1457M1446.01 1684.7H1457M1446.01 1794.2H1457M1446.01 1903.7H1457" stroke="#000" stroke-width="3.93" fill="none"/>
<g font-weight="bold" font-size="20.57" text-anchor="end">
<text transform="translate(1443.28 1473.07) scale(1 1.04)">0</text>
<text transform="translate(1443.28 1582.57) scale(1 1.04)">-10</text>
<text transform="translate(1443.28 1692.07) scale(1 1.04)">-20</text>
<text transform="translate(1443.28 1801.57) scale(1 1.04)">-30</text>
<text transform="translate(1443.28 1911.07) scale(1 1.04)">-40</text>
</g>
<path d="M1511.66 1903.7V1914.69M1593.73 1903.7V1914.69M1675.8 1903.7V1914.69M1757.88 1903.7V1914.69M1839.95 1903.7V1914.69" stroke="#000" stroke-width="3.93" fill="none"/>
<g font-weight="bold" font-size="20.57" text-anchor="end">
<text transform="translate(1518.72 1933.15) rotate(-45)">untreated</text>
<text transform="translate(1600.79 1933.15) rotate(-45)">ERT-treated</text>
<text transform="translate(1682.86 1933.15) rotate(-45)">migalastat-treated</text>
<text transform="translate(1764.94 1933.15) rotate(-45)">ERT-treated</text>
<text transform="translate(1847.01 1933.15) rotate(-45)">migalastat-treated</text>
</g>
<text transform="translate(1400.5 1684.7) rotate(-90)" font-weight="bold" font-size="23.6" text-anchor="middle">RVFWSL[%]</text>
<path d="M1502.2 2062.7H1665.2" stroke="#000" stroke-width="3.63" fill="none"/>
<text x="1590.6" y="2089.6" font-size="23.7" text-anchor="middle">females</text>
<path d="M1700.2 2062.7H1863.2" stroke="#000" stroke-width="3.63" fill="none"/>
<text x="1784.4" y="2089.6" font-size="23.7" text-anchor="middle">males</text>
<text transform="translate(1365.16 1442.9) scale(1.02 1)" font-weight="bold" font-size="44.6">I</text>
</g>
</svg>
</body></html>
